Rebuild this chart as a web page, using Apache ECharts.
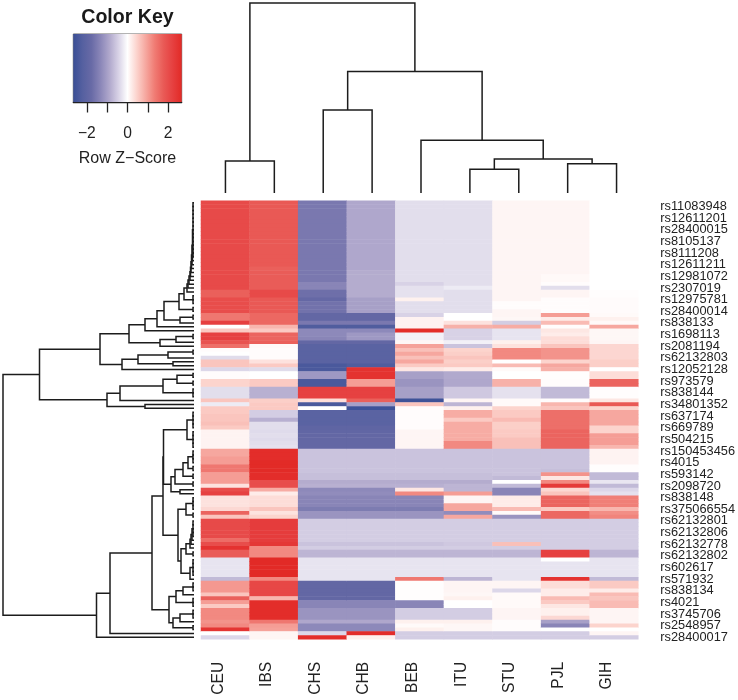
<!DOCTYPE html>
<html>
<head>
<meta charset="utf-8">
<script src="https://cdn.jsdelivr.net/npm/echarts@6/dist/echarts.min.js"></script>
<style>html,body{margin:0;padding:0;background:#fff}#c{width:738px;height:700px}</style>
</head>
<body>
<div id="c"></div>
<script>
const populations = ['CEU','IBS','CHS','CHB','BEB','ITU','STU','PJL','GIH'];
const rowLabels = ['rs11083948','rs12611201','rs28400015','rs8105137','rs8111208','rs12611211','rs12981072','rs2307019','rs12975781','rs28400014','rs838133','rs1698113','rs2081194','rs62132803','rs12052128','rs973579','rs838144','rs34801352','rs637174','rs669789','rs504215','rs150453456','rs4015','rs593142','rs2098720','rs838148','rs375066554','rs62132801','rs62132806','rs62132778','rs62132802','rs602617','rs571932','rs838134','rs4021','rs3745706','rs2548957','rs28400017'];

const CEU = [2.05,2.05,2.05,2.05,2.05,2.05,2.05,2.05,2.05,2.05,
2.05,2.05,2.05,2.05,2.05,2.05,2.05,2.05,2.05,2.05,
2.05,2.05,2.05,1.7,1.7,2,2,2,2,1.4,
1.4,2.25,0,.55,2.2,2.2,1.9,1.5,.03,0,
-.35,.6,.6,-.4,.03,.03,.45,.45,-.33,-.33,
-.33,.6,-.2,.55,.55,.6,.6,.65,.55,.12,
.12,.12,.12,.12,.9,.9,1,1,1.4,1.4,
1,1,1,.3,2,2.2,.3,.3,.3,.4,
1.65,.6,2.05,2.05,2.05,2.05,2.05,1.55,2,2.5,
1.75,1.75,-.27,-.27,-.27,-.27,-.27,-.7,1.05,1.05,
1.05,.6,1.7,1,.55,1.2,1.2,1.2,1.1,1.2,2.45,0,-.4];
const IBS = [1.8,1.8,1.8,1.8,1.8,1.8,1.8,1.8,1.8,1.8,
1.8,1.8,1.8,1.8,1.8,1.8,1.8,1.7,1.75,1.75,
1.75,1.75,1.75,2.05,2.05,1.8,1.8,1.8,1.8,1.6,
1.6,1.6,.75,.55,1.65,1.65,1.7,.05,.03,.03,
.03,.3,.55,-.35,0,0,.55,.55,-.8,-.8,
-.8,.5,.55,.55,-.5,-.5,-.8,-.33,-.33,-.36,
-.33,-.36,-.33,-.3,2.6,2.6,2.6,2.65,2.65,2.65,
2.6,2.6,2,2,.85,.2,.35,.35,.35,.6,
.3,.45,2.3,2.3,2.3,2.3,2.3,2.3,2.4,1.2,
1.2,1.2,2.68,2.68,2.68,2.68,2.68,1.2,2.1,2.1,
2.1,2.1,.75,2.6,2.6,2.6,2.6,2.6,1.4,1,.95,.1,.1];
const CHS = [-1.55,-1.55,-1.55,-1.55,-1.55,-1.55,-1.55,-1.55,-1.55,-1.55,
-1.55,-1.55,-1.55,-1.55,-1.55,-1.55,-1.55,-1.55,-1.55,-1.55,
-1.55,-1.35,-1.35,-1.7,-1.7,-1.85,-1.65,-1.65,-1.65,-1.9,
-1.9,-1.55,-2.3,-1.3,-1.3,-1.35,-1.9,-2.1,-2.1,-2.1,
-2.1,-2.1,-2.4,-2.4,-1.1,-1.1,-2.4,-2.4,2.2,2.2,
2.2,.35,-2.4,0,-2.1,-2.1,-2.1,-2.1,-2,-1.95,
-1.9,-1.9,-1.9,-1.9,-.6,-.6,-.6,-.6,-.6,-.6,
-.65,-.65,-.85,-.8,-1.3,-1.25,-1.35,-1.35,-1.35,-1.5,
-1.15,-1.15,-.5,-.5,-.5,-.5,-.5,-.5,-.6,-.5,
-.75,-.75,-.27,-.27,-.27,-.27,-.27,-.27,-1.9,-1.9,
-1.9,-1.9,-1.9,-1.35,-1.35,-1.15,-1.15,-1.15,-.9,-1.3,-1.3,-.4,2.6];
const CHB = [-.9,-.9,-.9,-.9,-.9,-.9,-.9,-.9,-.9,-.9,
-.9,-.9,-.9,-.9,-.9,-.9,-.9,-.9,-.85,-.85,
-.85,-.85,-.85,-.85,-.85,-1,-1,-1,-1,-1.9,
-1.9,-1.55,-2.3,-1.3,-1.1,-1.1,-1.9,-2.1,-2.1,-2.1,
-2.1,-2.1,-2.3,2.5,2.5,2.5,1,1,2.2,2.2,
2.2,1.7,-1,-2.6,-2.1,-2.1,-2.1,-2.1,-2,-1.95,
-1.9,-1.9,-1.9,-1.9,-.6,-.6,-.6,-.6,-.6,-.6,
-.65,-.65,-.85,-.8,-1.3,-1.25,-1.35,-1.35,-1.35,-1.5,
-1.15,-1.15,-.5,-.5,-.5,-.5,-.5,-.5,-.6,-.5,
-.75,-.75,-.27,-.27,-.27,-.27,-.27,-.27,-1.9,-1.9,
-1.9,-1.9,-1.9,-1.35,-1.35,-1.15,-1.15,-1.15,-.9,-1.3,-1.3,2.6,.15];
const BEB = [-.33,-.33,-.33,-.33,-.33,-.33,-.33,-.33,-.33,-.33,
-.33,-.33,-.33,-.33,-.33,-.33,-.33,-.33,-.33,-.33,
-.33,-.45,-.3,-.3,-.3,.15,-.33,-.33,-.33,-.45,
.13,.13,.13,2.6,-.15,-.15,.08,.95,.65,.9,
.65,.9,.55,.25,-1,-1,-1.15,-1.15,-1,-1,
-1,-2.6,.6,.03,.03,.03,.03,.03,.03,.1,
.1,.1,.1,.1,-.6,-.6,-.6,-.6,-.6,-.6,
-.65,-.65,-.85,-.8,.25,1.2,-1.35,-1.35,-1.35,-1.5,
-1.15,-1.15,-.5,-.5,-.5,-.5,-.5,-.5,-.6,-.5,
-.75,-.75,-.27,-.27,-.27,-.27,-.27,1.4,.02,.02,
.02,.02,.02,-1.35,-1.35,-.5,-.5,-.5,.15,.05,.15,-.5,-.5];
const ITU = [-.33,-.33,-.33,-.33,-.33,-.33,-.33,-.33,-.33,-.33,
-.33,-.33,-.33,-.33,-.33,-.33,-.33,-.33,-.33,-.33,
-.33,-.33,-.2,-.33,-.33,-.33,-.33,-.33,-.33,0,
0,.3,.8,-.45,-.45,-.45,-.15,-.6,.45,.5,
.6,.5,.55,.2,-.88,-.88,-.9,-.9,-.55,-.55,
-.55,.1,-.75,.15,.85,.85,.55,.85,.85,.85,
.85,.85,1.2,1.2,-.6,-.6,-.6,-.6,-.6,-.6,
-.65,-.65,-.85,-.75,-.75,1,.1,.1,.9,.9,
-1.25,.9,-.5,-.5,-.5,-.5,-.5,-.5,-.55,-.5,
-.75,-.75,-.27,-.27,-.27,-.27,-.27,-.75,.1,.1,
.1,.08,.15,0,0,-.5,-.5,-.5,.15,.08,.08,-.5,-.5];
const STU = [.1,.1,.1,.1,.1,.1,.1,.1,.1,.1,
.1,.1,.1,.1,.1,.1,.1,.1,.1,.1,
.1,.1,.1,.1,.1,.1,.03,.03,.1,.1,
.08,-.5,.85,-.27,-.27,-.27,.15,.3,1.2,1.2,
1.2,0,.7,.05,0,0,.8,.8,-.3,-.3,
-.3,.05,.05,.45,.55,.55,.7,.5,.5,.55,
.55,.65,.65,.65,-.6,-.6,-.6,-.6,-.6,-.6,
-.6,-.7,0,-.7,-1.35,-1.35,.2,.2,.2,.7,
.05,-1.15,-.5,-.5,-.5,-.5,-.5,-.5,.65,-.5,
-.75,-.75,-.27,-.27,-.27,-.27,-.27,-.27,.1,.1,
-.4,.05,.05,.05,.05,.1,.1,.1,.03,.03,.03,-.5,-.5];
const PJL = [.1,.1,.1,.1,.1,.1,.1,.1,.1,.1,
.1,.1,.1,.1,.1,.1,.1,.1,.1,.06,
.06,.03,-.33,.1,.1,.03,.03,.03,.03,1,
.2,.7,.03,.25,.2,.35,.35,.6,1.1,1.1,
1.1,.45,.9,.8,.02,.02,.03,.03,-.7,-.7,
-.7,.03,.75,.6,1.5,1.5,1.5,1.5,1.5,1.65,
1.65,1.65,1.65,1.65,-.6,-.6,-.6,-.6,-.6,-.65,
1.1,.25,1.2,2.35,.4,.6,1.65,1.65,1.65,.55,
1.6,1.6,-.5,-.5,-.5,-.5,-.5,-.5,-.5,-.5,
2.2,2.2,0,-.27,-.27,-.27,-.27,2.5,.35,.35,
.2,.2,.7,.55,.25,.15,.15,.4,-1,-1.35,0,-.5,-.5];
const GIH = [0,0,0,0,0,0,0,0,0,0,
0,0,0,0,0,0,0,0,0,0,
0,0,0,.02,.02,.04,.04,.04,.04,.05,
.15,.06,.9,.08,.08,.08,.1,.42,.42,.42,
.42,.5,.5,0,.35,.35,1.65,1.65,.02,.02,
.02,.25,1.8,.45,.9,.9,.9,.9,.45,.45,
1,1,1,.75,.12,.12,.12,.12,.02,.02,
-.7,-.7,-.25,-.7,-.4,-.3,1.3,1.3,1.3,.75,
1.15,1.25,-.5,-.5,-.5,-.5,-.5,-.5,-.5,-.5,
-.75,-.75,-.27,-.27,-.27,-.27,-.27,-.7,.55,.55,
.2,.7,.6,.7,.7,.1,.1,.1,.1,.45,0,.1,-.5];
const columns = [CEU,IBS,CHS,CHB,BEB,ITU,STU,PJL,GIH];

// Dendrograms: [merge height, left child, right child]; an integer child is that many adjacent leaves.
const colTree = [190,[32,1,1],[121.5,[83,1,1],[52.7,1,[34,[23.7,1,1],[29.3,1,1]]]]];
const topChain = [7,[6,[5,[4,[3.5,[3,[2.5,[2,[1.5,15,1],1],1],1],1],1],1],1],1];
const upperA = [65,[49,[37,[30,[15,[10,topChain,3],2],[14,2,1]],1],1],[34,[18,2,1],1]];
const upperB = [72,[56,[26,2,1],[21,1,1]],1];
const upperC = [87,[74,[31,[17,2,2],3],1],[49,1,1]];
const midUp = [30.5,[7,5,5],[23,[19,[11,[6,4,2],2],2],[14,1,1]]];
const midDown = [16,[8,4,2],[13,[8,[4,[3,[2,5,1],1],1],2],[4,5,1]]];
const lowerD = [25,[18,[11,3,1],3],[21,[14,3,1],2]];
const rowTree = [191,[154.5,[94,upperA,upperB],upperC],[97.5,[84,[42,[31,midUp,midDown],lowerD],1],1]];

const keyTicks = [-2,-1,0,1,2];
const keyLabels = [-2,0,2];
const keyRange = [-2.67,2.67];
const ramp = ['#3a4f96','#5560a0','#686aa6','#8a86b8','#b0a8cc','#d8d2e6','#ffffff','#fcd4ce','#f6a8a0','#f07c74','#e95a56','#e64040','#e22a26'];

const rowCount = CEU.length;
const categories = Array.from({length: rowCount}, (_, i) => i % 3 === 1 ? rowLabels[(i - 1) / 3] : '');
const cells = [];
columns.forEach((col, x) => col.forEach((v, y) => cells.push([x, y, v])));

function treeSegments(tree, rakeH) {
  const segs = []; let next = 0;
  (function walk(n) {
    if (typeof n === 'number') {
      const first = next; next += n;
      for (let i = first; i < next - 1; i++) segs.push([0, i, rakeH, i + 1, 0]);
      return n === 1 ? {p: first, h: 0} : {p: (first + next - 1) / 2, h: rakeH};
    }
    const a = walk(n[1]), b = walk(n[2]);
    segs.push([a.h, a.p, n[0], b.p, b.h]);
    return {p: (a.p + b.p) / 2, h: n[0]};
  })(tree);
  return segs;
}
const lineStyle = {stroke: '#1c1c1c', lineWidth: 1.5, fill: null};
const renderCol = (p, api) => ({type: 'polyline', shape: {points: [
  api.coord([api.value(1), api.value(0)]), api.coord([api.value(1), api.value(2)]),
  api.coord([api.value(3), api.value(2)]), api.coord([api.value(3), api.value(4)])]}, style: lineStyle});
const renderRow = (p, api) => ({type: 'polyline', shape: {points: [
  api.coord([api.value(0), api.value(1)]), api.coord([api.value(2), api.value(1)]),
  api.coord([api.value(2), api.value(3)]), api.coord([api.value(4), api.value(3)])]}, style: lineStyle});
const renderKey = (p, api) => {
  const a = api.coord([api.value(0), 0]), b = api.coord([api.value(1), 1]);
  return {type: 'rect', shape: {x: a[0], y: b[1], width: b[0] - a[0], height: a[1] - b[1]},
    style: {fill: new echarts.graphic.LinearGradient(0, 0, 1, 0,
      ramp.map((c, i) => ({offset: i / (ramp.length - 1), color: c})))}};
};

const font = 'Liberation Sans';
const hidden = {show: false};
const chart = echarts.init(document.getElementById('c'), null, {renderer: 'canvas'});
chart.setOption({
  animation: false,
  backgroundColor: '#fff',
  textStyle: {fontFamily: font},
  title: {text: 'Color Key', left: 122.5, top: 2.5, textAlign: 'center',
    textStyle: {fontFamily: font, fontWeight: 'bold', fontSize: 19.6, color: '#1a1a1a'}},
  grid: [
    {left: 201, top: 200.7, width: 440, height: 438.6},
    {left: 201, top: 3, width: 440, height: 190},
    {left: 3, top: 200.7, width: 191, height: 438.6},
    {left: 73.3, top: 34, width: 108.4, height: 68, show: true, borderColor: '#666', borderWidth: 1}
  ],
  xAxis: [
    {gridIndex: 0, type: 'category', data: populations, axisLine: hidden, axisTick: hidden, splitLine: hidden,
      axisLabel: {rotate: 90, margin: 22.5, fontSize: 15.6, lineHeight: 14, color: '#222', fontFamily: font, interval: 0, verticalAlign: 'bottom'}},
    {gridIndex: 1, type: 'value', min: -0.5, max: 8.5, show: false},
    {gridIndex: 2, type: 'value', min: 0, max: 191, inverse: true, show: false},
    {gridIndex: 3, type: 'value', min: keyRange[0], max: keyRange[1], splitLine: hidden,
      axisLine: {onZero: false, lineStyle: {color: '#222', width: 1.3}},
      axisTick: {customValues: keyTicks, length: 10.5, lineStyle: {color: '#222', width: 1.3}},
      axisLabel: {customValues: keyLabels, margin: 24, fontSize: 15.6, color: '#222', fontFamily: font,
        formatter: v => String(v).replace('-', '\u2212')},
      name: 'Row Z\u2212Score', nameLocation: 'center', nameGap: 49,
      nameTextStyle: {fontSize: 16, color: '#222', fontFamily: font}}
  ],
  yAxis: [
    {gridIndex: 0, type: 'category', data: categories, inverse: true, position: 'right', axisLine: hidden, axisTick: hidden, splitLine: hidden,
      axisLabel: {interval: 0, margin: 22, fontSize: 12.8, color: '#222', fontFamily: font, hideOverlap: false, padding: [2, 0, 0, 0]}},
    {gridIndex: 1, type: 'value', min: 0, max: 190, show: false},
    {gridIndex: 2, type: 'value', min: -0.5, max: rowCount - 0.5, inverse: true, show: false},
    {gridIndex: 3, type: 'value', min: 0, max: 1, show: false}
  ],
  visualMap: {show: false, seriesIndex: 0, dimension: 2, min: keyRange[0], max: keyRange[1], inRange: {color: ramp}},
  series: [
    {type: 'heatmap', xAxisIndex: 0, yAxisIndex: 0, data: cells, progressive: 0, emphasis: {disabled: true}},
    {type: 'custom', xAxisIndex: 1, yAxisIndex: 1, data: treeSegments(colTree, 1), renderItem: renderCol, silent: true, clip: false},
    {type: 'custom', xAxisIndex: 2, yAxisIndex: 2, data: treeSegments(rowTree, 1), renderItem: renderRow, silent: true, clip: false},
    {type: 'custom', xAxisIndex: 3, yAxisIndex: 3, data: [keyRange], renderItem: renderKey, silent: true, clip: true, z: 1}
  ]
});
</script>
</body>
</html>
